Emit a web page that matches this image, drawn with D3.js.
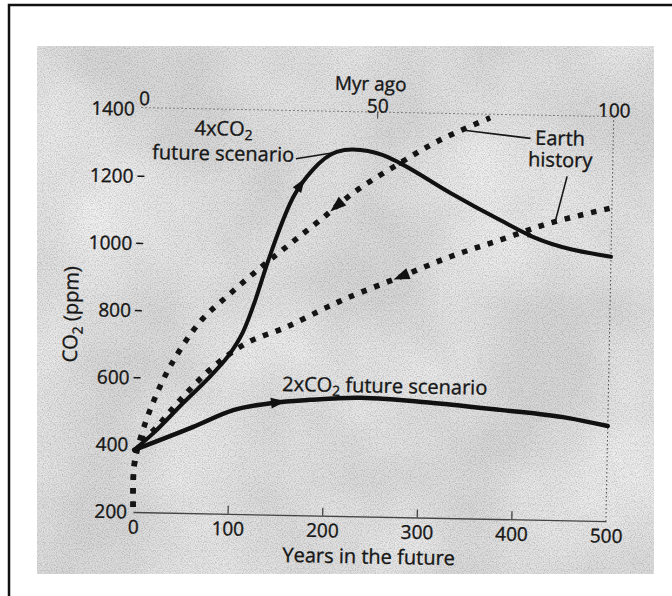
<!DOCTYPE html>
<html>
<head>
<meta charset="utf-8">
<script src="https://cdn.jsdelivr.net/npm/d3@7"></script>
<style>
  body { margin: 0; background: #fff; }
  svg { display: block; font-family: "Open Sans", sans-serif; font-weight: 500; }
  svg text { stroke: #161616; stroke-width: 0.35px; }
</style>
</head>
<body>
<div id="chart"></div>
<script>
// values
var years4x = [0, 20, 50, 82, 100, 113, 125, 137, 163, 183, 208, 225, 257, 275, 329, 382, 417, 500];
var co2_4x  = [385, 436, 525, 618, 680, 745, 838, 949, 1147, 1229, 1284, 1292, 1277, 1254, 1168, 1090, 1042, 987];

var years2x = [0, 62, 104, 146, 185, 238, 315, 386, 457, 500];
var co2_2x  = [385, 457, 509, 533, 544, 553, 542, 525, 505, 483];

// Earth history, Myr ago (top axis)
var myrUpper = [0, 0, 0.8, 3.2, 7.2, 13.4, 19.6, 25.9, 32.1, 38.4, 45.2, 55, 63.4, 73.9];
var co2Upper = [215, 325, 394, 505, 634, 770, 855, 934, 1007, 1080, 1162, 1254, 1325, 1394];
var myrLower = [0, 0, 0.8, 4.7, 9.5, 16.3, 23.4, 31.8, 40.2, 45, 55.5, 66, 76.5, 87, 100];
var co2Lower = [215, 325, 394, 455, 536, 636, 710, 760, 821, 853, 915, 978, 1031, 1084, 1133];

var yTicks = [200, 400, 600, 800, 1000, 1200, 1400];
var dashTicks = [600, 800, 1000, 1200];
var xTicks = [0, 100, 200, 300, 400, 500];
var topTicks = [0, 50, 100];

var width = 672, height = 596;
var ink = "#161616";

var svg = d3.select("#chart").append("svg")
    .attr("width", width)
    .attr("height", height);

// scan look
var defs = svg.append("defs");
var grain = defs.append("filter").attr("id", "grain")
    .attr("x", 0).attr("y", 0).attr("width", "100%").attr("height", "100%");
grain.append("feTurbulence").attr("type", "fractalNoise")
    .attr("baseFrequency", 0.85).attr("numOctaves", 2).attr("seed", 7);
grain.append("feColorMatrix").attr("type", "matrix")
    .attr("values", "0 0 0 0 0  0 0 0 0 0  0 0 0 0 0  0.4 0 0 0 -0.16");
var blot = defs.append("filter").attr("id", "blot")
    .attr("x", 0).attr("y", 0).attr("width", "100%").attr("height", "100%");
blot.append("feTurbulence").attr("type", "fractalNoise")
    .attr("baseFrequency", 0.007).attr("numOctaves", 3).attr("seed", 3);
blot.append("feColorMatrix").attr("type", "matrix")
    .attr("values", "0 0 0 0 1  0 0 0 0 1  0 0 0 0 1  1.1 0 0 0 -0.35");

svg.append("rect")
    .attr("x", 37).attr("y", 46).attr("width", 617).attr("height", 528)
    .attr("fill", "#d8d8d8");
svg.append("rect")
    .attr("x", 37).attr("y", 46).attr("width", 617).attr("height", 528)
    .attr("filter", "url(#blot)");
svg.append("rect")
    .attr("x", 37).attr("y", 46).attr("width", 617).attr("height", 528)
    .attr("filter", "url(#grain)");

// frame of the page
svg.append("rect")
    .attr("x", 9).attr("y", 5).attr("width", 700).attr("height", 700)
    .attr("fill", "none").attr("stroke", "#111").attr("stroke-width", 2.5);

// the scanned figure sits slightly rotated
var g = svg.append("g").attr("transform", "rotate(1.1,133,512)");

var x = d3.scaleLinear().domain([0, 500]).range([133, 606]);
var xTop = d3.scaleLinear().domain([0, 100]).range([133, 606]);
var y = d3.scaleLinear().domain([200, 1400]).range([512, 109]);
var topY = y(1406);

// bottom axis
var xAxis = d3.axisBottom(x).tickValues(xTicks).tickSize(-8).tickSizeOuter(0).tickPadding(8);
var gx = g.append("g").attr("transform", "translate(0," + y(200) + ")").call(xAxis);
gx.attr("font-size", null).attr("font-family", null);
gx.select(".domain").attr("stroke", "#444").attr("stroke-width", 1.3);
gx.selectAll(".tick line").attr("stroke", "#444").attr("stroke-width", 1.3)
    .attr("opacity", function(d) { return d === 0 || d === 500 ? 0 : 1; });
gx.selectAll(".tick text").attr("font-size", 19).attr("fill", ink);

// left axis
var yAxis = d3.axisLeft(y).tickValues(yTicks).tickFormat(d3.format("d")).tickSize(0).tickPadding(6);
var gy = g.append("g").attr("transform", "translate(" + x(0) + ",0)").call(yAxis);
gy.attr("font-size", null).attr("font-family", null);
gy.select(".domain").remove();
gy.selectAll(".tick text").attr("font-size", 19).attr("fill", ink);
g.selectAll(".dash")
    .data(dashTicks)
    .enter()
    .append("line")
    .attr("class", "dash")
    .attr("x1", x(0) - 2).attr("x2", x(0) + 5)
    .attr("y1", function(d) { return y(d); })
    .attr("y2", function(d) { return y(d); })
    .attr("stroke", ink).attr("stroke-width", 1.5);

// top axis (Myr ago)
var topAxis = d3.axisTop(xTop).tickValues(topTicks).tickSize(-7).tickSizeOuter(0).tickPadding(-1);
var gt = g.append("g").attr("transform", "translate(0," + topY + ")").call(topAxis);
gt.attr("font-size", null).attr("font-family", null);
gt.select(".domain").attr("stroke", "#666").attr("stroke-width", 1).attr("stroke-dasharray", "1.5,2.5");
gt.selectAll(".tick line").attr("stroke", "#555").attr("stroke-width", 1.2)
    .attr("opacity", function(d) { return d === 50 ? 1 : 0; });
gt.selectAll(".tick text").attr("font-size", 19).attr("fill", ink)
    .attr("dx", function(d) { return d === 0 ? 3 : 0; })
    .attr("dy", function(d) { return d === 0 ? -3 : 0; });

// right edge
g.append("line")
    .attr("x1", x(500)).attr("x2", x(500))
    .attr("y1", topY).attr("y2", y(200))
    .attr("stroke", "#555").attr("stroke-width", 1.1).attr("stroke-dasharray", "1.5,2.5");

// axis titles
g.append("text")
    .attr("x", xTop(48.5)).attr("y", topY - 21)
    .attr("text-anchor", "middle").attr("font-size", 19).attr("fill", ink)
    .text("Myr ago");

g.append("text")
    .attr("x", x(250)).attr("y", 559)
    .attr("text-anchor", "middle").attr("font-size", 20).attr("fill", ink)
    .text("Years in the future");

var yt = g.append("text")
    .attr("transform", "translate(74," + y(785) + ") rotate(-90)")
    .attr("text-anchor", "middle").attr("font-size", 20).attr("fill", ink);
yt.append("tspan").text("CO");
yt.append("tspan").attr("font-size", 14).attr("dy", 5).text("2");
yt.append("tspan").attr("dy", -5).text(" (ppm)");

// curves
function curveLine(sx, curve) {
    return d3.line()
        .x(function(d) { return sx(d[0]); })
        .y(function(d) { return y(d[1]); })
        .curve(curve);
}

var upper = g.append("path")
    .datum(d3.zip(myrUpper, co2Upper))
    .attr("d", curveLine(xTop, d3.curveCatmullRom.alpha(0.5)))
    .attr("fill", "none").attr("stroke", "#141414")
    .attr("stroke-width", 5.5).attr("stroke-dasharray", "5.5,8");

var lower = g.append("path")
    .datum(d3.zip(myrLower, co2Lower))
    .attr("d", curveLine(xTop, d3.curveCatmullRom.alpha(0.5)))
    .attr("fill", "none").attr("stroke", "#141414")
    .attr("stroke-width", 5.5).attr("stroke-dasharray", "5.5,8");

var line4x = g.append("path")
    .datum(d3.zip(years4x, co2_4x))
    .attr("d", curveLine(x, d3.curveMonotoneX))
    .attr("fill", "none").attr("stroke", "#111")
    .attr("stroke-width", 4).attr("stroke-linecap", "round");

var line2x = g.append("path")
    .datum(d3.zip(years2x, co2_2x))
    .attr("d", curveLine(x, d3.curveMonotoneX))
    .attr("fill", "none").attr("stroke", "#111")
    .attr("stroke-width", 4.5).attr("stroke-linecap", "round");

// arrowheads along the curves
function arrowAt(path, px, back, size) {
    var node = path.node(), len = node.getTotalLength();
    var lo = 0, hi = len;
    for (var i = 0; i < 30; i++) {
        var mid = (lo + hi) / 2;
        if (node.getPointAtLength(mid).x < px) lo = mid; else hi = mid;
    }
    var p = node.getPointAtLength(lo);
    var q = node.getPointAtLength(Math.min(len, lo + 2));
    var r = node.getPointAtLength(Math.max(0, lo - 2));
    var a = Math.atan2(q.y - r.y, q.x - r.x) * 180 / Math.PI;
    if (back) a += 180;
    g.append("path")
        .attr("d", "M" + (size * 0.6) + ",0L" + (-size * 0.4) + "," + (-size * 0.36) +
            "L" + (-size * 0.4) + "," + (size * 0.36) + "Z")
        .attr("transform", "translate(" + p.x + "," + p.y + ") rotate(" + a + ")")
        .attr("fill", "#111");
}

arrowAt(line4x, x(170), false, 14);
arrowAt(line4x, x(278), false, 8);
arrowAt(line4x, x(415), false, 8);
arrowAt(line2x, x(150), false, 15);
arrowAt(upper, xTop(42), true, 16);
arrowAt(lower, xTop(56), true, 16);

// annotations
var a4 = g.append("text")
    .attr("x", x(88)).attr("y", y(1326))
    .attr("text-anchor", "middle").attr("font-size", 20).attr("fill", ink);
a4.append("tspan").text("4xCO");
a4.append("tspan").attr("font-size", 14).attr("dy", 4).text("2");

g.append("text")
    .attr("x", x(88)).attr("y", y(1252))
    .attr("text-anchor", "middle").attr("font-size", 20).attr("fill", ink)
    .text("future scenario");

g.append("line")
    .attr("x1", x(165)).attr("y1", y(1261))
    .attr("x2", x(216)).attr("y2", y(1287))
    .attr("stroke", ink).attr("stroke-width", 1.6);

var a2 = g.append("text")
    .attr("x", x(155)).attr("y", y(569))
    .attr("font-size", 20).attr("fill", ink);
a2.append("tspan").text("2xCO");
a2.append("tspan").attr("font-size", 14).attr("dy", 4).text("2");
a2.append("tspan").attr("dy", -4).text(" future scenario");

g.append("text")
    .attr("x", xTop(83.5)).attr("y", y(1316))
    .attr("font-size", 20).attr("fill", ink)
    .text("Earth");
g.append("text")
    .attr("x", xTop(82.1)).attr("y", y(1252))
    .attr("font-size", 20).attr("fill", ink)
    .text("history");

g.append("line")
    .attr("x1", xTop(82.5)).attr("y1", y(1335))
    .attr("x2", xTop(68)).attr("y2", y(1356))
    .attr("stroke", ink).attr("stroke-width", 1.6);
g.append("line")
    .attr("x1", xTop(90.4)).attr("y1", y(1224))
    .attr("x2", xTop(88)).attr("y2", y(1085))
    .attr("stroke", ink).attr("stroke-width", 1.6);
</script>
</body>
</html>
